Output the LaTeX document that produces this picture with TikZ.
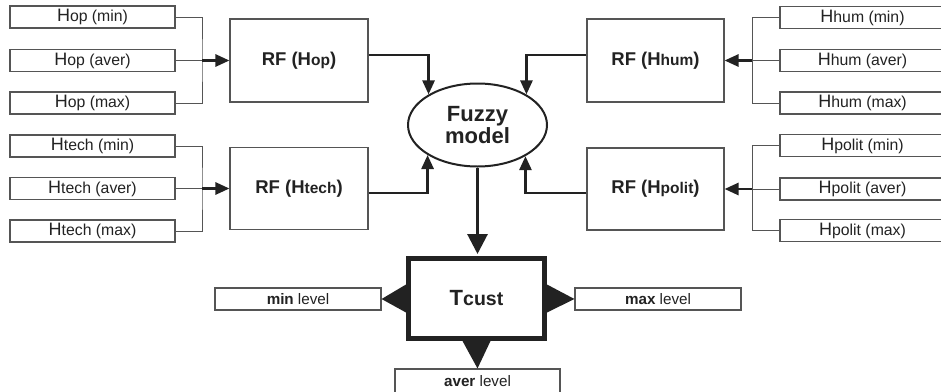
\documentclass[tikz,border=0pt]{standalone}
\usepackage{fontspec}
\setmainfont{Liberation Sans}
\usetikzlibrary{shapes.geometric,arrows.meta}
\definecolor{ink}{HTML}{222222}
\definecolor{edge}{HTML}{555555}
\newcommand{\bigH}{{\fontsize{18}{18}\selectfont H}}
\newcommand{\smallsub}[1]{{\fontsize{15.5}{16}\selectfont #1}}
\newcommand{\tsub}[1]{{\fontsize{19.5}{20}\selectfont #1}}
\begin{document}
\begin{tikzpicture}[x=1pt,y=-1pt,
  inbox/.style={draw=edge,line width=1.1pt,fill=white,minimum width=165pt,minimum height=22pt,inner sep=0pt,text=ink,font=\fontsize{15.8}{16}\selectfont},
  lvlbox/.style={draw=edge,line width=1.1pt,fill=white,minimum width=166pt,minimum height=22pt,inner sep=0pt,text=ink,font=\fontsize{15.2}{16}\selectfont},
  rfbox/.style={draw=edge,line width=1.1pt,minimum width=138pt,minimum height=83pt,inner sep=0pt,text=ink,font=\bfseries\fontsize{18.5}{19}\selectfont},
  wire/.style={draw=edge,line width=1pt},
  thk/.style={draw=ink,line width=2.7pt,-{Triangle[length=14pt,width=12pt]}},
  fuzzystyle/.style={ellipse,draw=ink,line width=2pt,minimum width=139pt,minimum height=83pt,inner sep=0pt,text=ink,align=center,font=\bfseries\fontsize{22}{18.5}\selectfont},
  tbox/.style={draw=ink,line width=5pt,minimum width=136pt,minimum height=80pt,inner sep=0pt,text=ink,font=\bfseries\fontsize{22}{22}\selectfont}
]
\fill[white] (0,0) rectangle (941,391);
\useasboundingbox (0,0) rectangle (941,391);

% left inputs
\node[inbox] (hopmin)  at (92.5,17)    {\bigH op (min)};
\node[inbox] (hopaver) at (92.5,60.5)  {\bigH op (aver)};
\node[inbox] (hopmax)  at (92.5,103)   {\bigH op (max)};
\node[inbox] (tecmin)  at (92.5,146)   {\bigH tech (min)};
\node[inbox] (tecaver) at (92.5,188.5) {\bigH tech (aver)};
\node[inbox] (tecmax)  at (92.5,231)   {\bigH tech (max)};

% right inputs
\node[inbox] (hummin)  at (862.5,17.5)  {\bigH hum (min)};
\node[inbox] (humaver) at (862.5,60.5)  {\bigH hum (aver)};
\node[inbox] (hummax)  at (862.5,103)   {\bigH hum (max)};
\node[inbox] (polmin)  at (862.5,145.5) {\bigH polit (min)};
\node[inbox] (polaver) at (862.5,189)   {\bigH polit (aver)};
\node[inbox] (polmax)  at (862.5,230.5) {\bigH polit (max)};

% RF boxes
\node[rfbox] (rfop)   at (299,60.5)   {RF (H\smallsub{op})};
\node[rfbox,minimum height=82pt] (rftech) at (299,188.5) {RF (H\smallsub{tech})};
\node[rfbox,minimum width=137pt] (rfhum)  at (655.5,60.5) {RF (H\smallsub{hum})};
\node[rfbox,minimum width=137pt,minimum height=82pt] (rfpol) at (655.5,189) {RF (H\smallsub{polit})};

% fuzzy model
\node[fuzzystyle] (fuzzy) at (477.5,125) {Fuzzy\\model};

% Tcust and levels
\node[tbox] (tcust) at (476.5,298.5) {T\tsub{cust}};
\node[lvlbox] (minlvl) at (298,299) {\textbf{min} level};
\node[lvlbox] (maxlvl) at (658,299) {\textbf{max} level};
\node[lvlbox,minimum width=165pt,minimum height=30pt] (averlvl) at (477.5,384) {\raisebox{7pt}{\textbf{aver} level}};

% buses
\coordinate (bl1) at (202,60.5);
\coordinate (bl2) at (202,188.5);
\coordinate (br1) at (752,60.5);
\coordinate (br2) at (752,189);

\draw[wire] (hopmin.east) -| (bl1) |- (hopmax.east);
\draw[wire] (hopaver.east) -- (bl1);
\draw[thk] (bl1) -- (rfop.west |- bl1);

\draw[wire] (tecmin.east) -| (bl2) |- (tecmax.east);
\draw[wire] (tecaver.east) -- (bl2);
\draw[thk] (bl2) -- (rftech.west |- bl2);

\draw[wire] (hummin.west) -| (br1) |- (hummax.west);
\draw[wire] (humaver.west) -- (br1);
\draw[thk] (br1) -- (rfhum.east |- br1);

\draw[wire] (polmin.west) -| (br2) |- (polmax.west);
\draw[wire] (polaver.west) -- (br2);
\draw[thk] (br2) -- (rfpol.east |- br2);

% RF to fuzzy
\draw[thk] ([yshift=5.5pt]rfop.east) -| (fuzzy.148.5);
\draw[thk] ([yshift=-4.5pt]rftech.east) -| (fuzzy.211.5);
\draw[thk] ([yshift=5.5pt]rfhum.west) -| (fuzzy.32.5);
\draw[thk] ([yshift=-4pt]rfpol.west) -| (fuzzy.327.5);

% fuzzy to Tcust
\draw[draw=ink,line width=3pt,-{Triangle[length=20pt,width=20pt]}] (fuzzy.south) -- ([yshift=2pt]fuzzy.south |- tcust.north);

% output triangles
\fill[ink] ([yshift=14pt]tcust.west) -- (minlvl.east) -- ([yshift=-14pt]tcust.west) -- cycle;
\fill[ink] ([yshift=14pt]tcust.east) -- (maxlvl.west) -- ([yshift=-14pt]tcust.east) -- cycle;
\fill[ink] ([xshift=-14pt]tcust.south) -- (averlvl.north) -- ([xshift=14pt]tcust.south) -- cycle;
\end{tikzpicture}
\end{document}
